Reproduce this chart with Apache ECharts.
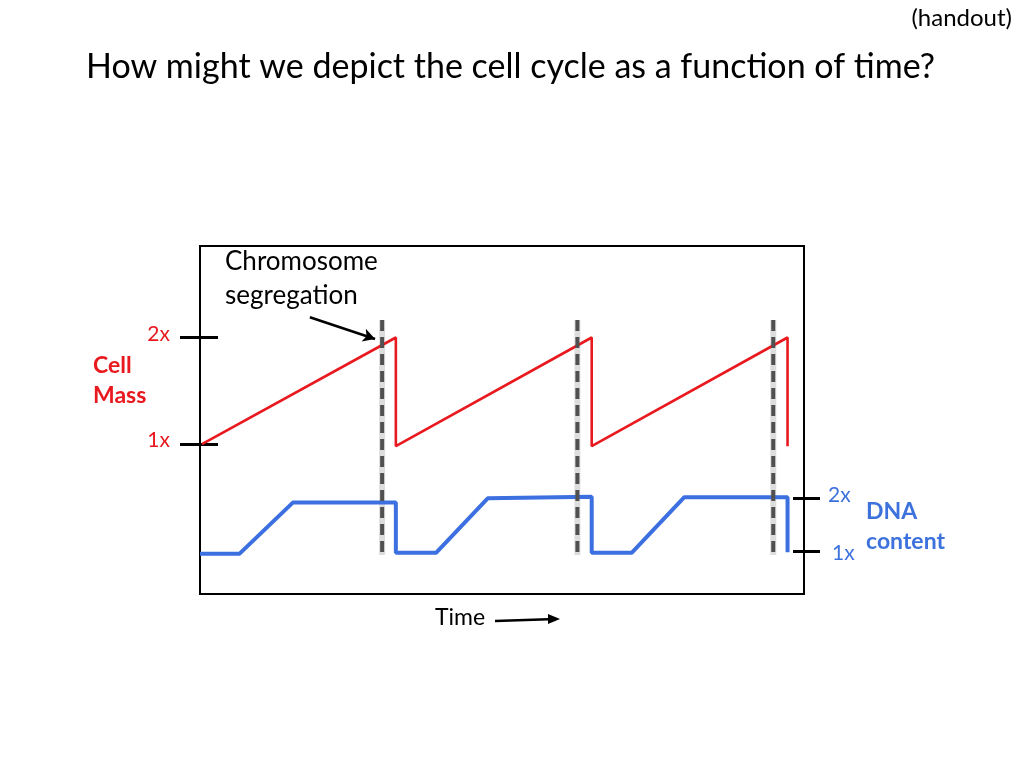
<!DOCTYPE html>
<html>
<head>
<meta charset="utf-8">
<style>
  html, body { margin: 0; padding: 0; background: #fff; }
  #chart { width: 1024px; height: 768px; }
</style>
<script src="https://cdn.jsdelivr.net/npm/echarts@6/dist/echarts.min.js"></script>
</head>
<body>
<div id="chart"></div>
<script>
// ---- data (time in cell-cycle units; mass and DNA in multiples of the starting amount) ----
var massTime   = [0.01, 1.0, 1.0, 2.0, 2.0, 3.0, 3.0];
var massValues = [1.0, 2.0, 0.98, 2.0, 0.98, 2.0, 0.98];

var dnaTime   = [0, 0.201, 0.474, 1.0, 1.0, 1.205, 1.469, 2.0, 2.0, 2.204, 2.473, 3.0, 3.0];
var dnaValues = [0.96, 0.96, 1.92, 1.92, 0.98, 0.98, 2.0, 2.03, 0.98, 0.98, 2.02, 2.02, 0.99];

var segregationTimes = [0.93, 1.927, 2.927];   // chromosome segregation markers
var segregationSpan  = [2.164, -0.042];         // extent of marker lines (mass units)

var tickValues = [1, 2];
var tickLabels = ['1x', '2x'];

var annotationArrow = [[0.561, 2.19], [0.894, 1.986]];

// ---- chart ----
var FONT = 'Lato, "Open Sans", sans-serif';
var RED = '#e8191f';
var BLUE = '#3c6fe0';
var BLUE_TXT = '#3d72dd';

function pairs(xs, ys) { return xs.map(function (x, i) { return [x, ys[i]]; }); }
function tickFmt(v) {
  var i = tickValues.indexOf(v);
  return i >= 0 ? '{t' + i + '|' + tickLabels[i] + '}' : '';
}

var series = [
  {
    type: 'line', name: 'Cell Mass', yAxisIndex: 0, data: pairs(massTime, massValues),
    symbol: 'none', lineStyle: { color: RED, width: 2.6 }, z: 3, animation: false
  },
  {
    type: 'line', name: 'DNA content', yAxisIndex: 2, data: pairs(dnaTime, dnaValues),
    symbol: 'none', lineStyle: { color: BLUE, width: 4 }, z: 3, animation: false
  }
];

segregationTimes.forEach(function (t) {
  series.push({
    type: 'line', yAxisIndex: 0, symbol: 'none', animation: false, silent: true,
    data: [[t, segregationSpan[0]], [t, segregationSpan[1]]],
    lineStyle: { color: 'rgba(120,120,120,0.25)', width: 6 }, z: 2
  });
  series.push({
    type: 'line', yAxisIndex: 0, symbol: 'none', animation: false, silent: true,
    data: [[t, segregationSpan[0]], [t, segregationSpan[1]]],
    lineStyle: { color: '#505050', width: 4, type: [11, 6] }, z: 4
  });
});

series.push({
  type: 'line', yAxisIndex: 0, data: [], clip: false, animation: false, silent: true,
  markLine: {
    silent: true, animation: false, symbol: ['none', 'arrow'], symbolSize: [10, 12],
    label: { show: false },
    lineStyle: { color: '#000', width: 2.5, type: 'solid' },
    data: [
      [{ coord: annotationArrow[0] }, { coord: annotationArrow[1] }]
    ]
  }
});

function yAx(opts) {
  return Object.assign({
    type: 'value', splitLine: { show: false }, axisLine: { show: false },
    axisLabel: { show: false }, axisPointer: { show: false }
  }, opts);
}

var option = {
  animation: false,
  backgroundColor: '#fff',
  title: [
    { text: '(handout)', right: 12, top: 6, padding: 0, textStyle: { fontFamily: FONT, fontSize: 24, fontWeight: 'normal', color: '#000' } },
    { text: 'How might we depict the cell cycle as a function of time?', left: 86, top: 50, padding: 0,
      textStyle: { fontFamily: FONT, fontSize: 34, fontWeight: 'normal', color: '#000' } },
    { text: 'Chromosome\nsegregation', left: 225, top: 245, padding: 0,
      textStyle: { fontFamily: FONT, fontSize: 26, fontWeight: 'normal', color: '#000', lineHeight: 34 } },
    { text: 'Cell\nMass', left: 93, top: 351, padding: 0,
      textStyle: { fontFamily: FONT, fontSize: 23, fontWeight: 'bold', color: RED, lineHeight: 30 } },
    { text: 'DNA\ncontent', left: 866, top: 497, padding: 0,
      textStyle: { fontFamily: FONT, fontSize: 23, fontWeight: 'bold', color: BLUE_TXT, lineHeight: 30 } },
    { text: 'Time', left: 435, top: 606, padding: 0,
      textStyle: { fontFamily: FONT, fontSize: 23, fontWeight: 'normal', color: '#000' } }
  ],
  graphic: [
    { type: 'line', shape: { x1: 495, y1: 621, x2: 556, y2: 619 }, style: { stroke: '#000', lineWidth: 2.5 } },
    { type: 'polygon', shape: { points: [[548, 614], [560, 619], [548, 624]] }, style: { fill: '#000' } }
  ],
  grid: { left: 200, top: 246, width: 604, height: 348, show: true, borderColor: '#000', borderWidth: 2, backgroundColor: 'transparent' },
  xAxis: { type: 'value', min: 0, max: 3.084, show: false },
  yAxis: [
    yAx({ position: 'left', min: -0.408, max: 2.859,
      axisTick: { show: true, inside: false, length: 20, customValues: tickValues, lineStyle: { color: '#000', width: 3 } },
      axisLabel: { show: true, customValues: tickValues, formatter: tickFmt, margin: 30, color: RED, fontSize: 21, fontFamily: FONT,
        rich: { t0: { color: RED, fontSize: 21, fontFamily: FONT, padding: [0, 0, 8, 0] },
                t1: { color: RED, fontSize: 21, fontFamily: FONT, padding: [0, 0, 6, 0] } } } }),
    yAx({ position: 'left', min: -0.408, max: 2.859,
      axisTick: { show: true, inside: true, length: 18, customValues: tickValues, lineStyle: { color: '#000', width: 3 } } }),
    yAx({ position: 'right', min: 0.208, max: 6.725,
      axisTick: { show: true, inside: false, length: 16, customValues: tickValues, lineStyle: { color: '#000', width: 3 } },
      axisLabel: { show: true, customValues: tickValues, formatter: tickFmt, margin: 24, color: BLUE_TXT, fontSize: 21, fontFamily: FONT,
        rich: { t0: { color: BLUE_TXT, fontSize: 21, fontFamily: FONT, padding: [4, 0, 0, 4] },
                t1: { color: BLUE_TXT, fontSize: 21, fontFamily: FONT, padding: [0, 0, 6, 0] } } } }),
    yAx({ position: 'right', min: 0.208, max: 6.725,
      axisTick: { show: true, inside: true, length: 11, customValues: tickValues, lineStyle: { color: '#000', width: 3 } } })
  ],
  series: series
};

var chart = echarts.init(document.getElementById('chart'), null, { renderer: 'canvas' });
chart.setOption(option);
</script>
</body>
</html>
